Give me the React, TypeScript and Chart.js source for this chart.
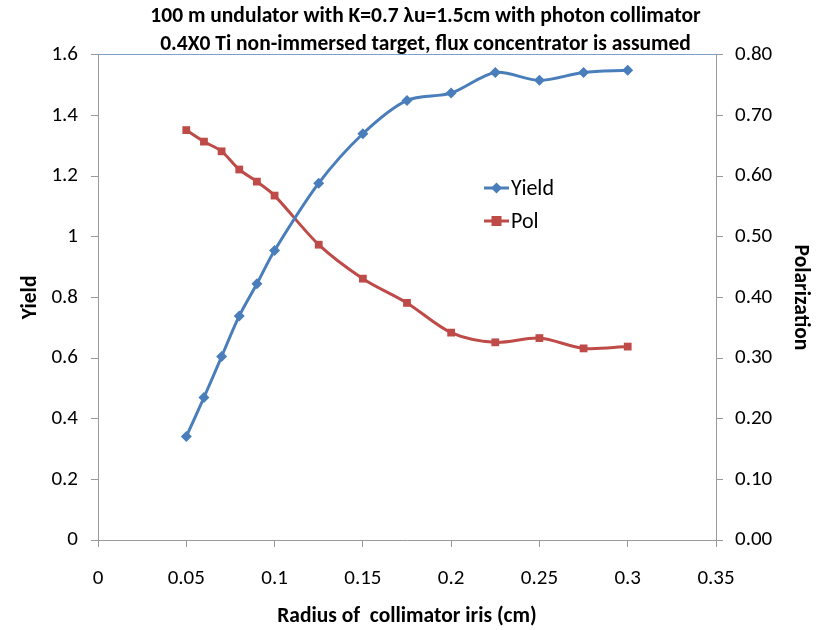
import React, { useEffect, useRef } from "react";
import { Chart, registerables } from "chart.js";

Chart.register(...registerables);

const radius = [0.05, 0.06, 0.07, 0.08, 0.09, 0.1, 0.125, 0.15, 0.175, 0.2, 0.225, 0.25, 0.275, 0.3];
const yieldVals = [0.341, 0.47, 0.605, 0.739, 0.845, 0.955, 1.177, 1.34, 1.45, 1.474, 1.542, 1.516, 1.542, 1.549];
const polVals = [0.676, 0.657, 0.641, 0.611, 0.591, 0.568, 0.487, 0.431, 0.391, 0.342, 0.326, 0.333, 0.316, 0.319];
const titleLines = [
  "100 m undulator with K=0.7 \u03bbu=1.5cm with photon collimator",
  "0.4X0 Ti non-immersed target, flux concentrator is assumed",
];

const FONT = "Carlito, 'Noto Sans', 'Open Sans', sans-serif";
const BLUE = "#4a7ebb";
const RED = "#be4b48";
const AXIS = "#9a9a9a";

const legendPlugin = {
  id: "insideLegend",
  afterDatasetsDraw(chart: any) {
    const ctx = chart.ctx;
    const x0 = 484;
    const ys = [188, 221];
    chart.data.datasets.forEach((ds: any, i: number) => {
      const y = ys[i];
      ctx.save();
      ctx.strokeStyle = ds.borderColor;
      ctx.lineWidth = 3;
      ctx.beginPath();
      ctx.moveTo(x0, y);
      ctx.lineTo(x0 + 25, y);
      ctx.stroke();
      ctx.fillStyle = ds.backgroundColor;
      ctx.beginPath();
      if (ds.pointStyle === "rectRot") {
        const r = 5.5;
        ctx.moveTo(x0 + 12.5, y - r);
        ctx.lineTo(x0 + 12.5 + r, y);
        ctx.lineTo(x0 + 12.5, y + r);
        ctx.lineTo(x0 + 12.5 - r, y);
        ctx.closePath();
      } else {
        ctx.rect(x0 + 12.5 - 5, y - 5, 10, 10);
      }
      ctx.fill();
      ctx.fillStyle = "#000";
      ctx.font = `22px ${FONT}`;
      ctx.textBaseline = "middle";
      ctx.textAlign = "left";
      ctx.fillText(ds.label, x0 + 27, y + 1);
      ctx.restore();
    });
  },
};

export default function App() {
  const ref = useRef<HTMLCanvasElement>(null);
  useEffect(() => {
    document.body.style.margin = "0";
    const chart = new Chart(ref.current!, {
      type: "line",
      data: {
        datasets: [
          {
            label: "Yield",
            data: radius.map((r, i) => ({ x: r, y: yieldVals[i] })),
            borderColor: BLUE,
            backgroundColor: BLUE,
            borderWidth: 3,
            pointStyle: "rectRot",
            pointRadius: 5.5,
            pointBorderWidth: 0,
            tension: 0.3,
            yAxisID: "y",
          },
          {
            label: "Pol",
            data: radius.map((r, i) => ({ x: r, y: polVals[i] })),
            borderColor: RED,
            backgroundColor: RED,
            borderWidth: 3,
            pointStyle: "rect",
            pointRadius: 5.5,
            pointBorderWidth: 0,
            tension: 0.3,
            yAxisID: "y1",
          },
        ],
      },
      options: {
        animation: false,
        responsive: false,
        layout: { padding: { left: 30, right: 0, top: 0, bottom: 0 } },
        plugins: {
          legend: { display: false },
          tooltip: { enabled: false },
          title: {
            display: true,
            text: titleLines,
            color: "#000",
            font: { family: FONT, size: 21.5, weight: "bold", lineHeight: 1.3 },
            padding: { top: 3, bottom: -4 },
          },
        },
        scales: {
          x: {
            type: "linear",
            min: 0,
            max: 0.35,
            afterFit: (s: any) => { s.height = 90; },
            ticks: {
              stepSize: 0.05,
              color: "#000",
              font: { family: FONT, size: 21 },
              padding: 19,
              callback: (v: any) => String(Math.round(Number(v) * 100) / 100),
            },
            grid: { drawOnChartArea: false, tickLength: 7, color: AXIS },
            border: { color: AXIS, width: 1 },
            title: {
              display: true,
              text: "Radius of  collimator iris (cm)",
              color: "#000",
              font: { family: FONT, size: 21.5, weight: "bold" },
              padding: { top: 0, bottom: 0 },
            },
          },
          y: {
            position: "left",
            min: 0,
            max: 1.6,
            afterFit: (s: any) => { s.width = 68; },
            ticks: {
              stepSize: 0.2,
              color: "#000",
              font: { family: FONT, size: 21 },
              padding: 13,
              callback: (v: any) => String(Math.round(Number(v) * 10) / 10),
            },
            grid: {
              drawOnChartArea: true,
              tickLength: 7,
              tickColor: AXIS,
              color: (c: any) => (c.tick && Math.abs(c.tick.value - 1.6) < 1e-6 ? "#7f9fc8" : "transparent"),
            },
            border: { color: AXIS, width: 1 },
            title: {
              display: true,
              text: "Yield",
              color: "#000",
              font: { family: FONT, size: 21.5, weight: "bold" },
              padding: { top: -12, bottom: 0 },
            },
          },
          y1: {
            position: "right",
            min: 0,
            max: 0.8,
            afterFit: (s: any) => { s.width = 105; },
            ticks: {
              stepSize: 0.1,
              color: "#000",
              font: { family: FONT, size: 21 },
              padding: 12,
              callback: (v: any) => Number(v).toFixed(2),
            },
            grid: { drawOnChartArea: false, tickLength: 7, color: AXIS },
            border: { color: AXIS, width: 1 },
            title: {
              display: true,
              text: "Polarization",
              color: "#000",
              font: { family: FONT, size: 21.5, weight: "bold" },
              padding: { top: 8, bottom: 0 },
            },
          },
        },
      },
      plugins: [legendPlugin],
    } as any);
    return () => chart.destroy();
  }, []);
  return (
    <div style={{ width: 821, height: 630, background: "#fff" }}>
      <canvas ref={ref} width={821} height={630} style={{ display: "block" }} />
    </div>
  );
}
